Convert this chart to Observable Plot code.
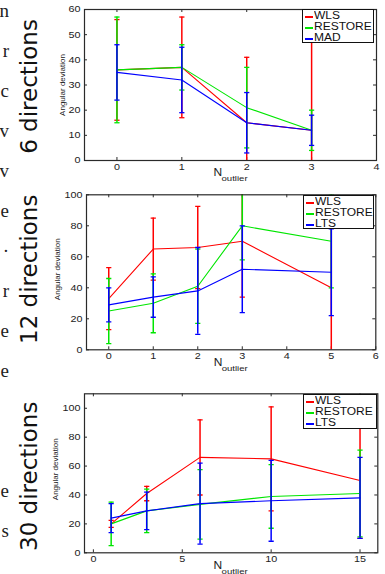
<!DOCTYPE html>
<html>
<head>
<meta charset="utf-8">
<script src="https://cdn.jsdelivr.net/npm/d3@7"></script>
<script src="https://cdn.jsdelivr.net/npm/@observablehq/plot@0.6"></script>
<style>
html, body { margin: 0; padding: 0; background: #fff; }
#root { position: relative; width: 385px; height: 574px; overflow: hidden; background: #fff; }
.panel { position: absolute; left: 0; }
.panel svg { overflow: visible; display: block; }
.legend { position: absolute; background: #fff; border: 1px solid #111; box-sizing: border-box; font-family: "Liberation Sans", Arial, sans-serif; font-size: 10px; color: #111; z-index: 5; }
.legend .row { position: absolute; left: 1px; width: 68px; height: 11px; white-space: nowrap; }
.legend .sw { position: absolute; left: 1px; top: 5px; width: 8px; height: 2px; }
.legend .lb { position: absolute; left: 10px; top: -1px; display: inline-block; transform: scaleX(1.2); transform-origin: 0 50%; line-height: 12px; }
.frag { position: absolute; right: 376px; font-family: "Liberation Serif", "DejaVu Serif", serif; font-size: 19px; line-height: 19px; color: #222; white-space: nowrap; }
</style>
</head>
<body>
<div id="root"></div>
<script>
// ---------- data ----------
const seriesNames6 = ["WLS", "RESTORE", "MAD"];
const seriesNames = ["WLS", "RESTORE", "LTS"];
const seriesColors = ["#ff0000", "#00e600", "#0000ff"];

// Panel 1: 6 directions
const x6 = [0, 1, 2, 3];
const wls6 = [36, 37, 15, 12];
const wls6Err = [20, 20, 26, 50];
const restore6 = [36, 37, 21, 12];
const restore6Err = [21, 9, 16, 8];
const mad6 = [35, 32, 15, 12];
const mad6Err = [11, 13, 12, 6];
const xTicks6 = [0, 1, 2, 3, 4];
const yTicks6 = [0, 10, 20, 30, 40, 50, 60];

// Panel 2: 12 directions
const x12 = [0, 1, 2, 3, 5];
const wls12 = [33, 65, 66, 70, 40];
const wls12Err = [20, 20, 26.5, 36, 42];
const restore12 = [25, 30, 41, 80, 70];
const restore12Err = [21, 19, 24, 22, 30];
const lts12 = [29, 34, 38, 52, 50];
const lts12Err = [11, 13, 28, 28, 28];
const xTicks12 = [0, 1, 2, 3, 4, 5, 6];
const yTicks12 = [0, 20, 40, 60, 80, 100];

// Panel 3: 30 directions
const x30 = [1, 3, 6, 10, 15];
const wls30 = [20, 41, 66, 65, 50];
const wls30Err = [2.4, 5, 26, 36, 40];
const restore30 = [20, 29, 33.5, 39, 41];
const restore30Err = [15, 15, 24, 22, 30];
const lts30 = [24, 29, 34, 36, 38];
const lts30Err = [10, 13, 28, 28, 28];
const xTicks30 = [0, 5, 10, 15];
const yTicks30 = [0, 20, 40, 60, 80, 100];

const dirLabels = ["6 directions", "12 directions", "30 directions"];
const yLabel = "Angular deviation";
const xLabelMain = "N";
const xLabelSub = "outlier";

// cropped text fragments at the left edge
const fragChars = ["n", "r", "c", "v", "v", "e", "·", "r", "e", "e", "", "", "e", "s"];

// ---------- helpers ----------
const W = 385;
const AX = "#2a2a2a";
const capSymbol = { draw(ctx) { ctx.moveTo(-2.6, 0); ctx.lineTo(2.6, 0); } };

function rows(name, xs, mean, err) {
  return xs.map((x, i) => ({ name, x, y: mean[i], lo: mean[i] - err[i], hi: mean[i] + err[i] }));
}

function stretchTexts(svg, s) {
  svg.querySelectorAll("text").forEach(t => {
    let tr = t.getAttribute("transform") || "";
    if (tr.includes("rotate")) return;
    const x = t.getAttribute("x");
    let extra = "";
    if (x !== null && x !== "" && !isNaN(+x)) { t.removeAttribute("x"); extra = ` translate(${x},0)`; }
    t.setAttribute("transform", tr + extra + ` scale(${s},1)`);
  });
}

function makePanel(cfg) {
  const plotW = W - cfg.ml - cfg.mr;
  const plotH = cfg.height - cfg.mt - cfg.mb;
  const marks = [];
  // inward tick marks on all four sides
  marks.push(Plot.tickY(cfg.yTicks, { y: d => d, insetRight: plotW - 3, stroke: AX }));
  marks.push(Plot.tickY(cfg.yTicks, { y: d => d, insetLeft: plotW - 3, stroke: AX }));
  marks.push(Plot.tickX(cfg.xTicks, { x: d => d, insetTop: plotH - 3, stroke: AX }));
  marks.push(Plot.tickX(cfg.xTicks, { x: d => d, insetBottom: plotH - 3, stroke: AX }));
  cfg.series.forEach((s, k) => {
    const d = rows(s.name, cfg.xs, s.mean, s.err);
    const c = seriesColors[k];
    marks.push(Plot.ruleX(d, { x: "x", y1: "lo", y2: "hi", stroke: c, strokeWidth: 1.5, clip: true }));
    marks.push(Plot.dot(d, { x: "x", y: "lo", symbol: capSymbol, fill: "none", stroke: c, strokeWidth: 1.3, clip: true }));
    marks.push(Plot.dot(d, { x: "x", y: "hi", symbol: capSymbol, fill: "none", stroke: c, strokeWidth: 1.3, clip: true }));
    marks.push(Plot.line(d, { x: "x", y: "y", stroke: c, strokeWidth: 1.1, clip: true }));
  });
  marks.push(Plot.frame({ stroke: AX, strokeWidth: 1.2 }));
  marks.push(Plot.text([yLabel], { text: d => d, frameAnchor: "left", textAnchor: "middle", rotate: -90, dx: cfg.ylDx, dy: cfg.ylDy, fontSize: 8, fill: "#222", fontFamily: "Liberation Sans, Arial, sans-serif" }));
  marks.push(Plot.text([cfg.dir], { text: d => d, frameAnchor: "left", textAnchor: "middle", rotate: -90, dx: 36 - cfg.ml, dy: cfg.dirDy, lineAnchor: "bottom", fontSize: 23, fill: "#111", fontFamily: "DejaVu Sans, sans-serif" }));
  marks.push(Plot.text([xLabelMain], { text: d => d, frameAnchor: "bottom", dx: cfg.nDx, dy: cfg.nDy, lineAnchor: "bottom", textAnchor: "start", fontSize: 10, fill: "#222" }));
  marks.push(Plot.text([xLabelSub], { text: d => d, frameAnchor: "bottom", dx: cfg.nDx + 8, dy: cfg.nDy + 5, lineAnchor: "bottom", textAnchor: "start", fontSize: 8, fill: "#222" }));

  const svg = Plot.plot({
    width: W,
    height: cfg.height,
    marginLeft: cfg.ml,
    marginRight: cfg.mr,
    marginTop: cfg.mt,
    marginBottom: cfg.mb,
    style: { fontFamily: "Liberation Sans, Arial, sans-serif", fontSize: "9px", color: "#222", background: "transparent", overflow: "visible" },
    x: { domain: cfg.xDomain, ticks: cfg.xTicks, tickFormat: d => String(d), tickSize: 0, tickPadding: 3, label: null },
    y: { domain: cfg.yDomain, ticks: cfg.yTicks, tickFormat: d => String(d), tickSize: 0, tickPadding: 4, label: null },
    marks
  });
  stretchTexts(svg, 1.2);
  const wrap = document.createElement("div");
  wrap.className = "panel";
  wrap.style.top = cfg.top + "px";
  wrap.appendChild(svg);
  root.appendChild(wrap);

  // legend (inside the axes, top right)
  const lg = document.createElement("div");
  lg.className = "legend";
  lg.style.left = cfg.lg[0] + "px";
  lg.style.top = cfg.lg[1] + "px";
  lg.style.width = cfg.lg[2] + "px";
  lg.style.height = cfg.lg[3] + "px";
  cfg.names.forEach((n, k) => {
    const r = document.createElement("div");
    r.className = "row";
    r.style.top = Math.round(1 + k * 10.8) + "px";
    const sw = document.createElement("div");
    sw.className = "sw";
    sw.style.backgroundColor = seriesColors[k];
    const lb = document.createElement("span");
    lb.className = "lb";
    lb.textContent = n;
    r.appendChild(lb); r.appendChild(sw);
    lg.appendChild(r);
  });
  root.appendChild(lg);
}

const root = document.getElementById("root");

makePanel({
  top: 0, height: 185, ml: 84, mr: 9, mt: 9, mb: 25,
  xDomain: [-0.5, 4], yDomain: [0, 60], xTicks: xTicks6, yTicks: yTicks6,
  xs: x6,
  series: [{ name: "WLS", mean: wls6, err: wls6Err }, { name: "RESTORE", mean: restore6, err: restore6Err }, { name: "MAD", mean: mad6, err: mad6Err }],
  names: seriesNames6, dir: dirLabels[0], dirDy: 1.5,
  ylDx: -22, ylDy: 0, nDx: -17, nDy: 15,
  lg: [302, 9, 72, 34]
});

makePanel({
  top: 185, height: 195, ml: 86, mr: 9.7, mt: 9.3, mb: 30.7,
  xDomain: [-0.5, 6], yDomain: [0, 100], xTicks: xTicks12, yTicks: yTicks12,
  xs: x12,
  series: [{ name: "WLS", mean: wls12, err: wls12Err }, { name: "RESTORE", mean: restore12, err: restore12Err }, { name: "LTS", mean: lts12, err: lts12Err }],
  names: seriesNames, dir: dirLabels[1], dirDy: -3,
  ylDx: -29, ylDy: -3, nDx: -17.5, nDy: 15.7,
  lg: [303, 195, 71, 34]
});

makePanel({
  top: 380, height: 194, ml: 84, mr: 7.7, mt: 13.3, mb: 21.7,
  xDomain: [-0.5, 16], yDomain: [0, 110], xTicks: xTicks30, yTicks: yTicks30,
  xs: x30,
  series: [{ name: "WLS", mean: wls30, err: wls30Err }, { name: "RESTORE", mean: restore30, err: restore30Err }, { name: "LTS", mean: lts30, err: lts30Err }],
  names: seriesNames, dir: dirLabels[2], dirDy: 3,
  ylDx: -29, ylDy: -4, nDx: -17.6, nDy: 15.7,
  lg: [303, 394, 74, 35]
});

fragChars.forEach((ch, i) => {
  if (!ch) return;
  const s = document.createElement("span");
  s.className = "frag";
  s.textContent = ch;
  s.style.top = (12 + i * 40 - 11) + "px";
  root.appendChild(s);
});
</script>
</body>
</html>
